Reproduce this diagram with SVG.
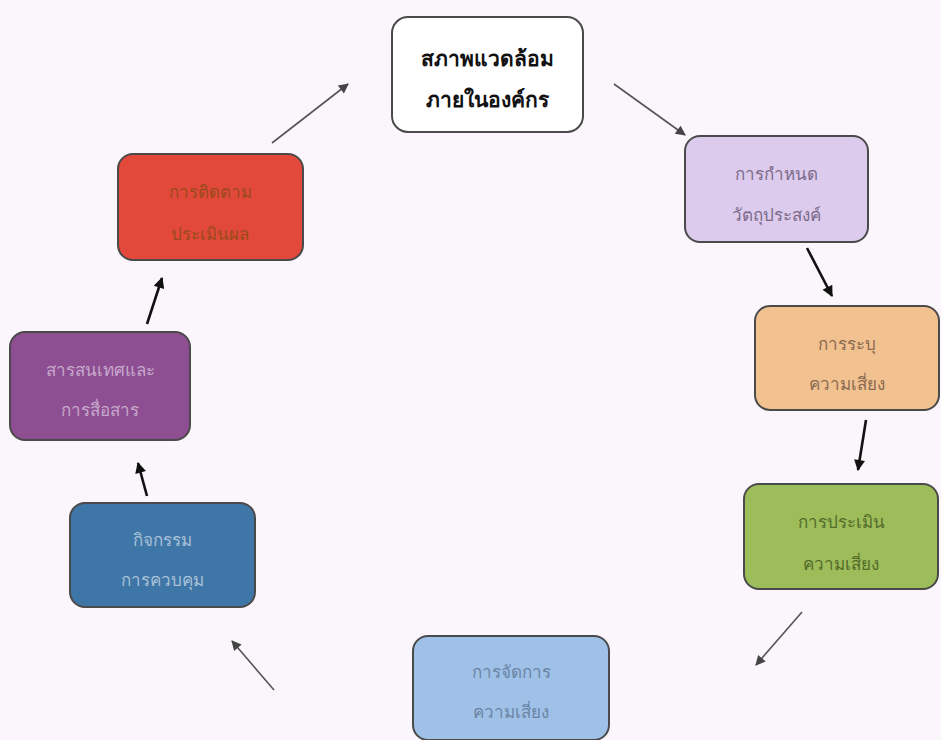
<svg xmlns="http://www.w3.org/2000/svg" width="941" height="740" viewBox="0 0 941 740">
<defs>
<style>
.box{stroke:#4a4a4a;stroke-width:2}
.t{font-family:"Liberation Serif","DejaVu Serif",serif;font-size:17px;text-anchor:middle}
.tb{font-family:"Liberation Sans","DejaVu Sans",sans-serif;font-size:21px;font-weight:bold;text-anchor:middle;fill:#111}
.thin{stroke:#555;stroke-width:1.6;fill:none}
.thick{stroke:#111;stroke-width:2.6;fill:none}
</style>
<marker id="ah" viewBox="0 0 10 10" refX="9" refY="5" markerWidth="12" markerHeight="10" markerUnits="userSpaceOnUse" orient="auto"><path d="M0,0 L10,5 L0,10 z" fill="#444"/></marker>
<marker id="ahk" viewBox="0 0 10 10" refX="9" refY="5" markerWidth="13" markerHeight="11" markerUnits="userSpaceOnUse" orient="auto"><path d="M0,0 L10,5 L0,10 z" fill="#111"/></marker>
</defs>
<rect width="941" height="740" fill="#fbf6fb"/>
<g id="n1"><rect class="box" x="392" y="17" width="191" height="115" rx="16" fill="#ffffff"/><text class="tb" x="487" y="66">สภาพแวดล้อม</text><text class="tb" x="487" y="107">ภายในองค์กร</text></g>
<g id="n2"><rect class="box" x="685" y="136" width="183" height="106" rx="15" fill="#dccbec"/><text class="t" x="776" y="180" fill="#7a6a8a">การกำหนด</text><text class="t" x="776" y="221" fill="#7a6a8a">วัตถุประสงค์</text></g>
<g id="n3"><rect class="box" x="755" y="306" width="184" height="104" rx="15" fill="#f2c190"/><text class="t" x="847" y="350" fill="#8a6a50">การระบุ</text><text class="t" x="847" y="390" fill="#8a6a50">ความเสี่ยง</text></g>
<g id="n4"><rect class="box" x="744" y="484" width="194" height="105" rx="15" fill="#9cbd5a"/><text class="t" x="841" y="528" fill="#556b2a">การประเมิน</text><text class="t" x="841" y="570" fill="#556b2a">ความเสี่ยง</text></g>
<g id="n5"><rect class="box" x="413" y="636" width="196" height="104" rx="15" fill="#9fc1e8"/><text class="t" x="511" y="678" fill="#6a84a4">การจัดการ</text><text class="t" x="511" y="718" fill="#6a84a4">ความเสี่ยง</text></g>
<g id="n6"><rect class="box" x="70" y="503" width="185" height="104" rx="15" fill="#3f76a8"/><text class="t" x="162" y="546" fill="#a9c0d6">กิจกรรม</text><text class="t" x="162" y="586" fill="#a9c0d6">การควบคุม</text></g>
<g id="n7"><rect class="box" x="10" y="332" width="180" height="108" rx="15" fill="#8d4f92"/><text class="t" x="100" y="376" fill="#c8a8cc">สารสนเทศและ</text><text class="t" x="100" y="416" fill="#c8a8cc">การสื่อสาร</text></g>
<g id="n8"><rect class="box" x="118" y="154" width="185" height="106" rx="15" fill="#e2493a"/><text class="t" x="210" y="198" fill="#9a4a1a">การติดตาม</text><text class="t" x="210" y="240" fill="#9a4a1a">ประเมินผล</text></g>
<g id="connectors">
<line class="thin" x1="272" y1="143" x2="348" y2="84" marker-end="url(#ah)"/>
<line class="thin" x1="614" y1="84" x2="685" y2="135" marker-end="url(#ah)"/>
<line class="thick" x1="807" y1="248" x2="832" y2="296" marker-end="url(#ahk)"/>
<line class="thick" x1="866" y1="420" x2="858" y2="470" marker-end="url(#ahk)"/>
<line class="thin" x1="802" y1="612" x2="756" y2="665" marker-end="url(#ah)"/>
<line class="thin" x1="274" y1="690" x2="232" y2="641" marker-end="url(#ah)"/>
<line class="thick" x1="147" y1="496" x2="138" y2="463" marker-end="url(#ahk)"/>
<line class="thick" x1="147" y1="324" x2="162" y2="278" marker-end="url(#ahk)"/>
</g>
</svg>
